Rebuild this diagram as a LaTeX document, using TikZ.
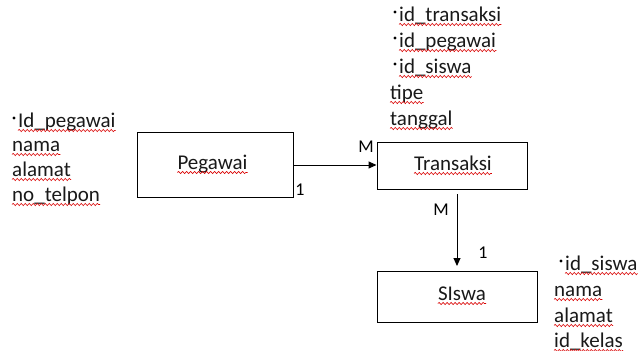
\documentclass[tikz,border=0pt]{standalone}
\usepackage{fontspec}
\setmainfont{Carlito}
\usetikzlibrary{arrows.meta,decorations.pathmorphing}

% attribute word with a wavy red underline
\newcommand\attrword[4]{%
  \node[word] (#1) at (#2,#3) {#4};
  \draw[squig] ([yshift=-3.5pt]#1.base west) -- ([yshift=-3.5pt]#1.base east);
}
% key attribute: bullet in front of the word
\newcommand\keyword[4]{%
  \attrword{#1}{#2}{#3}{#4}
  \fill ([xshift=-4pt,yshift=9pt]#1.base west) circle (1.6pt);
}

\begin{document}
\begin{tikzpicture}[x=1pt,y=-1pt,
  word/.style={anchor=base west,inner sep=0pt,font=\fontsize{21}{21}\selectfont,text=black!90},
  entity/.style={draw,line width=1pt,inner sep=0pt,font=\fontsize{21}{21}\selectfont},
  card/.style={inner sep=0pt,font=\fontsize{18}{18}\selectfont},
  squig/.style={draw=red!85!black,line width=0.6pt,decorate,
    decoration={snake,amplitude=1.1pt,segment length=4pt}},
  rel/.style={line width=1pt,-{Triangle[length=8pt,width=7pt]}}]
\useasboundingbox (0,0) rectangle (638,351);

% entities
\node[entity,minimum width=156pt,minimum height=65pt] (peg) at (215,164.5) {};
\node[entity,minimum width=150pt,minimum height=47pt] (trx) at (452,165.5) {};
\node[entity,minimum width=160pt,minimum height=51pt] (sis) at (457,296.5) {};

% entity names
\node[word,anchor=base] (pegname) at (212.5,169) {Pegawai};
\draw[squig] ([yshift=-3.5pt]pegname.base west) -- ([yshift=-3.5pt]pegname.base east);
\node[word,anchor=base] (trxname) at (453,170) {Transaksi};
\draw[squig] ([yshift=-3.5pt]trxname.base west) -- ([yshift=-3.5pt]trxname.base east);
\node[word,anchor=base] (sisname) at (462,300) {SIswa};
\draw[squig] ([yshift=-3.5pt]sisname.base west) -- ([yshift=-3.5pt]sisname.base east);

% relationships
\coordinate (a1) at (293,165);
\coordinate (a2) at (377,165);
\draw[rel] (peg.east |- a1) -- (trx.west |- a2);
\coordinate (b1) at (457,194);
\coordinate (b2) at (457,266);
\draw[rel] (b1) -- (b2);

% cardinalities
\node[card] (cM1) at (366,147) {M};
\node[card] (c11) at (300,190) {1};
\node[card] (cM2) at (441,210) {M};
\node[card] (c12) at (483,253) {1};

% Pegawai attributes
\keyword{p1}{18}{127}{Id\_pegawai}
\attrword{p2}{12}{151}{nama}
\attrword{p3}{12}{176}{alamat}
\attrword{p4}{12}{201}{no\_telpon}

% Transaksi attributes
\keyword{t1}{399}{21}{id\_transaksi}
\keyword{t2}{399}{47}{id\_pegawai}
\keyword{t3}{399}{73}{id\_siswa}
\attrword{t4}{390}{99}{tipe}
\attrword{t5}{390}{125}{tanggal}

% Siswa attributes
\keyword{s1}{565}{270}{id\_siswa}
\attrword{s2}{554}{296}{nama}
\attrword{s3}{554}{322}{alamat}
\attrword{s4}{554}{347}{id\_kelas}
\end{tikzpicture}
\end{document}
